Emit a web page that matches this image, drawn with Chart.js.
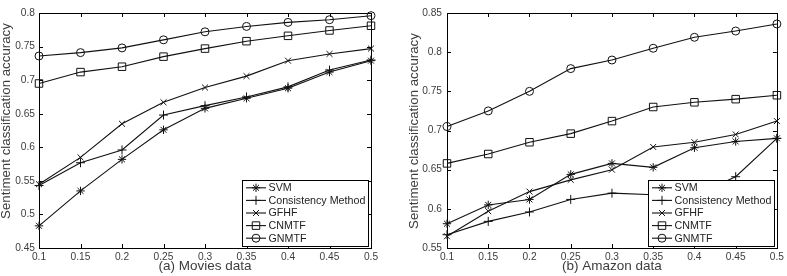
<!DOCTYPE html>
<html>
<head>
<meta charset="utf-8">
<script src="https://cdn.jsdelivr.net/npm/chart.js@4/dist/chart.umd.min.js"></script>
<style>
  html, body { margin: 0; padding: 0; background: #fff; }
  #wrap { position: relative; width: 787px; height: 276px; overflow: hidden; }
  .panel { position: absolute; top: 0; height: 276px; }
</style>
</head>
<body>
<div id="wrap">
  <div class="panel" style="left:0;width:394px"><canvas id="chartA" width="394" height="276"></canvas></div>
  <div class="panel" style="left:394px;width:393px"><canvas id="chartB" width="393" height="276"></canvas></div>
</div>
<script>
// x categories (ratio of labeled data)
const ratios = ['0.1', '0.15', '0.2', '0.25', '0.3', '0.35', '0.4', '0.45', '0.5'];
const seriesNames = ['SVM', 'Consistency Method', 'GFHF', 'CNMTF', 'GNMTF'];

// (a) Movies data
const svmMovies   = [0.483, 0.535, 0.582, 0.626, 0.658, 0.673, 0.688, 0.712, 0.729];
const consMovies  = [0.543, 0.577, 0.596, 0.648, 0.662, 0.675, 0.690, 0.715, 0.730];
const gfhfMovies  = [0.545, 0.585, 0.635, 0.667, 0.689, 0.706, 0.729, 0.739, 0.747];
const cnmtfMovies = [0.695, 0.712, 0.720, 0.735, 0.747, 0.758, 0.766, 0.774, 0.781];
const gnmtfMovies = [0.736, 0.741, 0.748, 0.760, 0.772, 0.780, 0.786, 0.790, 0.796];

// (b) Amazon data
const svmAmazon   = [0.581, 0.605, 0.612, 0.644, 0.658, 0.653, 0.678, 0.686, 0.690];
const consAmazon  = [0.567, 0.584, 0.596, 0.612, 0.620, 0.618, 0.617, 0.641, 0.690];
const gfhfAmazon  = [0.565, 0.597, 0.622, 0.637, 0.650, 0.679, 0.685, 0.695, 0.712];
const cnmtfAmazon = [0.658, 0.670, 0.685, 0.696, 0.712, 0.730, 0.736, 0.740, 0.745];
const gnmtfAmazon = [0.705, 0.725, 0.750, 0.779, 0.790, 0.805, 0.819, 0.827, 0.836];

// y ranges / tick steps
const moviesRange = [0.45, 0.8];
const amazonRange = [0.55, 0.85];
const yStep = 0.05;

const FONT = '"Liberation Sans", Arial, Helvetica, sans-serif';
const TEXT_COLOR = '#3d3d3d';
const markStyle = ['star', 'cross', 'crossRot', 'rect', 'circle'];
const markSize  = [4.2, 4.5, 4.2, 5.3, 4];

// MATLAB style box with inward ticks on all four sides
const matlabFrame = {
  id: 'matlabFrame',
  beforeDatasetsDraw(chart) {
    const ctx = chart.ctx, a = chart.chartArea;
    const px = v => Math.round(v) + 0.5;
    ctx.save();
    ctx.strokeStyle = '#000';
    ctx.lineWidth = 1;
    ctx.beginPath();
    const xs = chart.scales.x, ys = chart.scales.y;
    xs.ticks.forEach((t, i) => {
      const x = px(xs.getPixelForTick(i));
      ctx.moveTo(x, a.bottom); ctx.lineTo(x, a.bottom - 4);
      ctx.moveTo(x, a.top); ctx.lineTo(x, a.top + 4);
    });
    ys.ticks.forEach(t => {
      const y = px(ys.getPixelForValue(t.value));
      ctx.moveTo(a.left, y); ctx.lineTo(a.left + 4, y);
      ctx.moveTo(a.right, y); ctx.lineTo(a.right - 4, y);
    });
    ctx.stroke();
    ctx.strokeRect(px(a.left), px(a.top), Math.round(a.right) - Math.round(a.left), Math.round(a.bottom) - Math.round(a.top));
    ctx.restore();
  }
};

// rotated y axis title (left panel's label sits a bit above centre)
const yTitle = {
  id: 'yTitle',
  afterDraw(chart, args, opts) {
    const ctx = chart.ctx, a = chart.chartArea;
    ctx.save();
    ctx.translate(opts.x, (a.top + a.bottom) / 2 - opts.shift);
    ctx.rotate(-Math.PI / 2);
    ctx.font = '13.3px ' + FONT;
    ctx.fillStyle = TEXT_COLOR;
    ctx.textAlign = 'center';
    ctx.textBaseline = 'middle';
    ctx.fillText(opts.text, 0, 0);
    ctx.restore();
  }
};

// legend box in the lower right corner of the plot
const boxLegend = {
  id: 'boxLegend',
  afterDatasetsDraw(chart) {
    const ctx = chart.ctx, a = chart.chartArea;
    const sets = chart.data.datasets;
    ctx.save();
    ctx.font = '10.7px ' + FONT;
    let textW = 0;
    sets.forEach(d => { textW = Math.max(textW, ctx.measureText(d.label).width); });
    const rowH = 12.6;
    const w = Math.round(textW + 29), h = Math.round(rowH * sets.length + 3);
    const x0 = Math.round(a.right) - 3 - w, y0 = Math.round(a.bottom) - 2 - h;
    ctx.fillStyle = '#fff';
    ctx.fillRect(x0, y0, w, h);
    ctx.strokeStyle = '#000';
    ctx.lineWidth = 1;
    ctx.strokeRect(x0 + 0.5, y0 + 0.5, w, h);
    sets.forEach((d, i) => {
      const cy = y0 + 7.8 + i * rowH;
      ctx.strokeStyle = d.borderColor;
      ctx.lineWidth = d.borderWidth;
      ctx.beginPath();
      ctx.moveTo(x0 + 4, cy); ctx.lineTo(x0 + 24, cy);
      ctx.stroke();
      ctx.fillStyle = 'rgba(0,0,0,0)';
      ctx.strokeStyle = d.pointBorderColor;
      ctx.lineWidth = d.pointBorderWidth;
      Chart.helpers.drawPoint(ctx, {
        pointStyle: d.pointStyle, radius: d.pointRadius,
        borderWidth: d.pointBorderWidth, rotation: 0
      }, x0 + 14, cy);
      ctx.fillStyle = '#222';
      ctx.textBaseline = 'middle';
      ctx.textAlign = 'left';
      ctx.fillText(d.label, x0 + 26.5, cy + 0.5);
    });
    ctx.restore();
  }
};

function makeSets(values) {
  return seriesNames.map((name, i) => ({
    label: name,
    data: values[i],
    borderColor: '#111',
    borderWidth: 1.1,
    pointStyle: markStyle[i],
    pointRadius: markSize[i],
    pointBorderColor: '#111',
    pointBackgroundColor: 'rgba(0,0,0,0)',
    pointBorderWidth: 1,
    tension: 0,
    clip: false
  }));
}

function makeChart(id, values, range, xTitle, yWidth, titleX, titleShift, tickPad, rightPad) {
  return new Chart(document.getElementById(id), {
    type: 'line',
    data: { labels: ratios, datasets: makeSets(values) },
    plugins: [matlabFrame, boxLegend, yTitle],
    options: {
      responsive: false,
      animation: false,
      devicePixelRatio: 1,
      events: [],
      layout: { padding: { left: 0, top: 13, right: rightPad, bottom: 0 } },
      plugins: {
        legend: { display: false },
        tooltip: { enabled: false },
        yTitle: { text: 'Sentiment classification accuracy', x: titleX, shift: titleShift }
      },
      scales: {
        x: {
          type: 'category',
          offset: false,
          grid: { display: false, drawTicks: false },
          border: { display: false },
          ticks: { color: TEXT_COLOR, padding: 3, maxRotation: 0, autoSkip: false, font: { family: FONT, size: 10.2 } },
          title: { display: true, text: xTitle, color: TEXT_COLOR, padding: { top: 0, bottom: 3 },
                   font: { family: FONT, size: 13.5, lineHeight: 1 } },
          afterFit(s) { s.height = 28; }
        },
        y: {
          type: 'linear',
          min: range[0],
          max: range[1],
          grid: { display: false, drawTicks: false },
          border: { display: false },
          ticks: {
            stepSize: yStep, color: TEXT_COLOR, padding: tickPad, font: { family: FONT, size: 10.2 },
            callback: v => String(parseFloat(v.toFixed(2)))
          },
          afterFit(s) { s.width = yWidth; }
        }
      }
    }
  });
}

makeChart('chartA', [svmMovies, consMovies, gfhfMovies, cnmtfMovies, gnmtfMovies],
  moviesRange, '(a) Movies data', 39, 6.7, 9.5, 4, 23);
makeChart('chartB', [svmAmazon, consAmazon, gfhfAmazon, cnmtfAmazon, gnmtfAmazon],
  amazonRange, '(b) Amazon data', 53, 20, -0.5, 5, 8);
</script>
</body>
</html>
